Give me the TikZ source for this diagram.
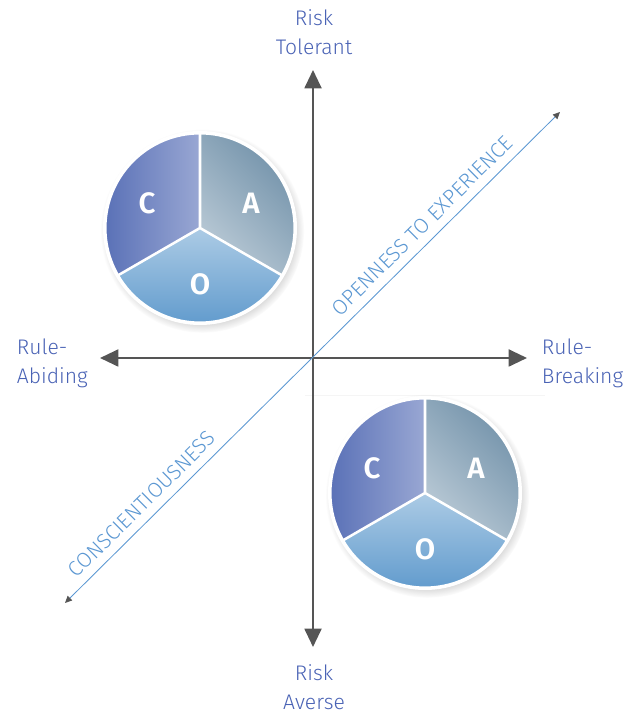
\documentclass[tikz,border=0pt]{standalone}
\usepackage{fontspec}
\setmainfont{Fira Sans Light}[BoldFont={Fira Sans SemiBold}]
\usetikzlibrary{arrows.meta,shadows}
\definecolor{labelblue}{HTML}{4A63B5}
\definecolor{diagblue}{HTML}{5B97D2}
\definecolor{axisgray}{HTML}{555555}
\definecolor{cdark}{HTML}{5A71B7}
\definecolor{clight}{HTML}{99A7D3}
\definecolor{adark}{HTML}{6C8DA6}
\definecolor{alight}{HTML}{BACAD6}
\definecolor{otop}{HTML}{ACCBE5}
\definecolor{obot}{HTML}{5895CA}
\tikzset{
  axis/.style={draw=axisgray, line width=1.6pt, {Triangle[length=13pt,width=12pt]}-{Triangle[length=13pt,width=12pt]}},
  diag/.style={draw=diagblue, line width=0.6pt, {Triangle[length=5pt,width=4.5pt,color=axisgray]}-{Triangle[length=5pt,width=4.5pt,color=axisgray]}},
  axislabel/.style={text=labelblue, font=\fontsize{15}{20.5}\selectfont, align=center},
  diaglabel/.style={text=diagblue, font=\fontsize{15}{16}\selectfont, inner sep=3pt},
  letter/.style={text=white, font=\fontsize{21}{22}\selectfont\bfseries},
  caopie/.pic={
    \fill[white, circular drop shadow={shadow xshift=1.5pt, shadow yshift=-2pt, shadow scale=1.05, opacity=0.45}] (0,0) circle (97);
    \shade[left color=cdark, right color=clight] (0,0) -- (90:95) arc[start angle=90, end angle=210, radius=95] -- cycle;
    \shade[top color=adark, bottom color=alight, shading angle=-45] (0,0) -- (-30:95) arc[start angle=-30, end angle=90, radius=95] -- cycle;
    \shade[top color=otop, bottom color=obot] (0,0) -- (210:95) arc[start angle=210, end angle=330, radius=95] -- cycle;
    \draw[white, line width=1.8pt] (0,0) -- (90:95) (0,0) -- (210:95) (0,0) -- (330:95);
    \draw[white, line width=2.2pt] (0,0) circle (95);
    \node[letter] (-c) at (-53,25) {C};
    \node[letter] (-a) at (51,25) {A};
    \node[letter] (-o) at (0,-56) {O};
  }
}
\begin{document}
\begin{tikzpicture}[x=0.025cm, y=0.025cm]
\useasboundingbox (0,0) rectangle (633,714);

% axes
\coordinate (origin) at (313,356);
\coordinate (top) at (313,644);
\coordinate (bottom) at (313,67);
\coordinate (left) at (100,356);
\coordinate (right) at (527,356);
\coordinate (sw) at (65,111);
\coordinate (ne) at (560,602);

\draw[gray!8, line width=0.6pt] (305,319) -- (545,319);

\draw[axis] (bottom) -- (top);
\draw[axis] (left) -- (right);
\draw[diag] (sw) -- (ne)
  node[diaglabel, pos=0.178, sloped, above=3pt] (consc) {CONSCIENTIOUSNESS}
  node[diaglabel, pos=0.745, sloped, above=3pt] (open) {OPENNESS TO EXPERIENCE};

% labels
\node[axislabel] (tolerant) at (314,682) {Risk\\Tolerant};
\node[axislabel] (averse) at (314,27) {Risk\\Averse};
\node[axislabel, anchor=west, align=left] (abiding) at (12,351) {Rule-\\Abiding};
\node[axislabel, anchor=west, align=left] (breaking) at (537,351) {Rule-\\Breaking};

% pies
\pic (tl) at (200,486) {caopie};
\pic (br) at (425,221) {caopie};
\end{tikzpicture}
\end{document}
